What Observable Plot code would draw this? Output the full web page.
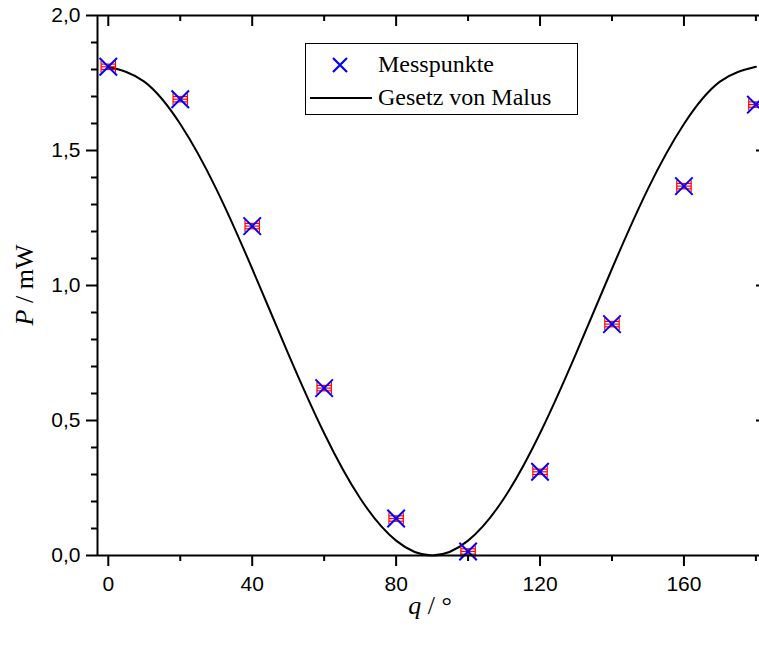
<!DOCTYPE html>
<html>
<head>
<meta charset="utf-8">
<script src="https://cdn.jsdelivr.net/npm/d3@7"></script>
<script src="https://cdn.jsdelivr.net/npm/@observablehq/plot@0.6"></script>
<style>
  html, body { margin: 0; padding: 0; background: #fff; }
  #wrap { position: relative; width: 759px; height: 651px; }
  #legend {
    position: absolute; left: 305px; top: 43px; width: 273px; height: 72px;
    border: 1px solid #000; background: #fff; box-sizing: border-box;
    font-family: "Liberation Serif", "Times New Roman", serif; font-size: 24px; color: #000;
  }
  #legend .row { position: absolute; left: 0; height: 34px; display: flex; align-items: center; }
  #legend .lbl { position: absolute; left: 72px; white-space: nowrap; }
</style>
</head>
<body>
<div id="wrap">
  <div id="chart"></div>
  <div id="legend">
    <div class="row" style="top:3px;width:100%">
      <svg width="70" height="34" style="position:absolute;left:0;top:0">
        <path d="M27,11 L41,25 M41,11 L27,25" stroke="#0000ff" stroke-width="2.2" fill="none"/>
      </svg>
      <span class="lbl">Messpunkte</span>
    </div>
    <div class="row" style="top:36px;width:100%">
      <svg width="70" height="34" style="position:absolute;left:0;top:0">
        <line x1="4" y1="18" x2="66" y2="18" stroke="#000" stroke-width="2"/>
      </svg>
      <span class="lbl">Gesetz von Malus</span>
    </div>
  </div>
</div>
<script>
// Measured points
const angles = [0, 20, 40, 60, 80, 100, 120, 140, 160, 180];
const power = [1.81, 1.69, 1.22, 0.62, 0.137, 0.015, 0.31, 0.857, 1.368, 1.67];
const angleErr = 2;
const powerErr = 0.01;

// Malus law curve, every 10 degrees
const curveAngles = [0, 10, 20, 30, 40, 50, 60, 70, 80, 90, 100, 110, 120, 130, 140, 150, 160, 170, 180];
const curvePower = [1.81, 1.755, 1.598, 1.358, 1.062, 0.748, 0.453, 0.212, 0.055, 0.0, 0.055, 0.212, 0.453, 0.748, 1.062, 1.358, 1.598, 1.755, 1.81];

// Tick positions & labels
const xMajor = [0, 40, 80, 120, 160];
const xMinor = [20, 60, 100, 140, 180];
const yMajor = [0, 0.5, 1.0, 1.5, 2.0];
const yMinor = [0.1, 0.2, 0.3, 0.4, 0.6, 0.7, 0.8, 0.9, 1.1, 1.2, 1.3, 1.4, 1.6, 1.7, 1.8, 1.9];
const yRightTicks = [0.5, 1.0, 1.5];
const yTickLabel = d => d.toFixed(1).replace(".", ",");

const xDomain = [-3, 181];
const yDomain = [0, 2];

const pts = angles.map((a, i) => ({a, p: power[i]}));
const curve = curveAngles.map((a, i) => ({a, p: curvePower[i]}));

const sans = "'Liberation Sans', Arial, sans-serif";
const pxPerY = 540 / 2;
const pxPerX = 662 / 184;
const sw = 2;
const K = "#000";

const chart = Plot.plot({
  width: 759,
  height: 651,
  marginLeft: 97,
  marginRight: 0,
  marginTop: 15,
  marginBottom: 96,
  style: {fontFamily: sans, fontSize: "21px", color: "#000", background: "#fff"},
  x: {domain: xDomain, axis: null},
  y: {domain: yDomain, axis: null},
  marks: [
    // Malus curve
    Plot.line(curve, {x: "a", y: "p", curve: "natural", stroke: K, strokeWidth: 2}),
    // error bars (red)
    Plot.link(pts, {x1: d => d.a - angleErr, x2: d => d.a + angleErr, y1: "p", y2: "p", stroke: "#ff0000", strokeWidth: 1.2}),
    Plot.link(pts, {x1: "a", x2: "a", y1: d => d.p - powerErr, y2: d => d.p + powerErr, stroke: "#ff0000", strokeWidth: 1.2}),
    Plot.link(pts, {x1: d => d.a - angleErr, x2: d => d.a - angleErr, y1: d => d.p - 6 / pxPerY, y2: d => d.p + 6 / pxPerY, stroke: "#ff0000", strokeWidth: 1.2}),
    Plot.link(pts, {x1: d => d.a + angleErr, x2: d => d.a + angleErr, y1: d => d.p - 6 / pxPerY, y2: d => d.p + 6 / pxPerY, stroke: "#ff0000", strokeWidth: 1.2}),
    Plot.link(pts, {x1: d => d.a - angleErr, x2: d => d.a + angleErr, y1: d => d.p - powerErr, y2: d => d.p - powerErr, stroke: "#ff0000", strokeWidth: 1.2}),
    Plot.link(pts, {x1: d => d.a - angleErr, x2: d => d.a + angleErr, y1: d => d.p + powerErr, y2: d => d.p + powerErr, stroke: "#ff0000", strokeWidth: 1.2}),
    // markers
    Plot.dot(pts, {x: "a", y: "p", symbol: "times", r: 8, stroke: "#0000ff", strokeWidth: 2}),
    // frame lines
    Plot.ruleY([yDomain[0], yDomain[1]], {stroke: K, strokeWidth: sw}),
    Plot.ruleX([xDomain[0]], {stroke: K, strokeWidth: sw}),
    // bottom ticks (outward) and labels
    Plot.ruleX(xMajor, {y1: yDomain[0], y2: yDomain[0] - 11 / pxPerY, stroke: K, strokeWidth: sw}),
    Plot.ruleX(xMinor, {y1: yDomain[0], y2: yDomain[0] - 6 / pxPerY, stroke: K, strokeWidth: sw}),
    Plot.axisX({ticks: xMajor, tickSize: 0, tickPadding: 21, tickFormat: d => String(d), fontSize: 21, label: null}),
    // left ticks (outward) and labels
    Plot.ruleY(yMajor, {x1: xDomain[0], x2: xDomain[0] - 11 / pxPerX, stroke: K, strokeWidth: sw}),
    Plot.ruleY(yMinor, {x1: xDomain[0], x2: xDomain[0] - 6 / pxPerX, stroke: K, strokeWidth: sw}),
    Plot.axisY({ticks: yMajor, tickSize: 0, tickPadding: 17, tickFormat: yTickLabel, fontSize: 21, label: null}),
    // top inner ticks
    Plot.ruleX(xMajor, {y1: yDomain[1], y2: yDomain[1] - 11 / pxPerY, stroke: K, strokeWidth: sw}),
    Plot.ruleX(xMinor, {y1: yDomain[1], y2: yDomain[1] - 6 / pxPerY, stroke: K, strokeWidth: sw}),
    // right inner ticks
    Plot.ruleY(yRightTicks, {x1: xDomain[1], x2: xDomain[1] - 3 / pxPerX, stroke: K, strokeWidth: sw})
  ]
});

const yTitle = d3.select(chart).append("text")
  .attr("transform", "translate(33,285) rotate(-90)")
  .attr("text-anchor", "middle")
  .style("font-family", "'Liberation Serif', 'Times New Roman', serif")
  .style("font-size", "26px")
  .attr("fill", "#000");
yTitle.append("tspan").style("font-style", "italic").text("P");
yTitle.append("tspan").text(" / mW");

const xTitle = d3.select(chart).append("text")
  .attr("x", 430).attr("y", 614)
  .attr("text-anchor", "middle")
  .style("font-family", "'Liberation Serif', 'Times New Roman', serif")
  .style("font-size", "26px")
  .attr("fill", "#000");
xTitle.append("tspan").style("font-style", "italic").text("q");
xTitle.append("tspan").text(" / °");

document.getElementById("chart").appendChild(chart);
</script>
</body>
</html>
